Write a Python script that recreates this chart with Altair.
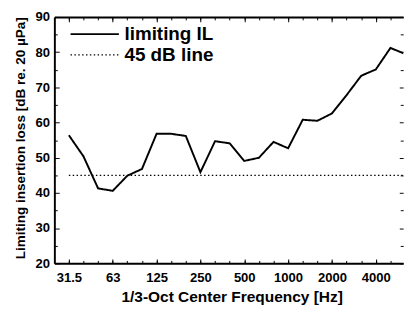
import json
import altair as alt
import pandas as pd

# ---- data ----
freq_labels = ["31.5", "40", "50", "63", "80", "100", "125", "160", "200", "250",
               "315", "400", "500", "630", "800", "1000", "1250", "1600", "2000",
               "2500", "3150", "4000", "5000", "6300"]
il_values = [56.4, 50.4, 41.3, 40.6, 44.9, 46.8, 56.8, 56.8, 56.2, 45.9,
             54.7, 54.1, 49.1, 50.0, 54.5, 52.7, 60.8, 60.5, 62.6, 67.8,
             73.3, 75.1, 81.2, 79.5]
labeled_bands = ["31.5", "63", "125", "250", "500", "1000", "2000", "4000"]
line_level = 45
series_names = ["limiting IL", "45 dB line"]
y_major = [20, 30, 40, 50, 60, 70, 80, 90]
y_minor = [25, 35, 45, 55, 65, 75, 85]

rows = []
for i, v in enumerate(il_values):
    rows.append({"idx": i, "value": v, "series": series_names[0]})
for i in (0, len(freq_labels) - 1):
    rows.append({"idx": i, "value": line_level, "series": series_names[1]})
df = pd.DataFrame(rows)

FONT = "Liberation Sans"
labeled_idx = [freq_labels.index(b) for b in labeled_bands]
all_idx = list(range(len(freq_labels) - 1))
label_expr = json.dumps(freq_labels) + "[datum.value]"

sx = alt.Scale(domain=[-0.99, 22.87], nice=False, zero=False)
sy = alt.Scale(domain=[20, 90], nice=False, zero=False)


def tick_axis(orient, values, size):
    return alt.Axis(orient=orient, values=values, tickSize=size, offset=-size,
                    domain=False, labels=False, title=None, tickColor="black",
                    grid=False)


main = alt.Chart(df).mark_line(color="black", clip=True).encode(
    x=alt.X("idx:Q", scale=sx, axis=alt.Axis(
        orient="bottom", values=labeled_idx, labelExpr=label_expr,
        ticks=False, tickSize=0, domainWidth=2, domainColor="black",
        labelPadding=8, labelFont=FONT, labelFontSize=13.5, labelFontWeight="bold",
        labelColor="black", labelFlush=False, labelOverlap=False, grid=False,
        title="1/3-Oct Center Frequency [Hz]", titleFont=FONT, titleFontSize=16,
        titleFontWeight="bold", titleColor="black", titleX=183.5, titleY=40,
        titleBaseline="alphabetic", titleAlign="center")),
    y=alt.Y("value:Q", scale=sy, axis=alt.Axis(
        orient="left", values=y_major, ticks=False, tickSize=0, grid=False,
        domainWidth=2, domainColor="black", labelPadding=5, labelFont=FONT,
        labelFontSize=13.5, labelFontWeight="bold", labelColor="black",
        title="Limiting insertion loss [dB re. 20 µPa]", titleFont=FONT,
        titleFontSize=14, titleFontWeight="bold", titleColor="black",
        titleX=-31, titleY=125, titleAngle=270, titleBaseline="alphabetic",
        titleAlign="center")),
    strokeDash=alt.StrokeDash("series:N", scale=alt.Scale(
        domain=series_names, range=[[1, 0], [1.5, 2.5]]),
        legend=alt.Legend(orient="none", legendX=32, legendY=8, title=None,
                          symbolType="M-5,0H5", symbolSize=100,
                          symbolStrokeWidth=2, symbolStrokeColor="black",
                          symbolFillColor="transparent",
                          labelFont=FONT, labelFontSize=19.5,
                          labelFontWeight="bold", labelColor="black",
                          labelOffset=21, rowPadding=0.5, padding=0,
                          labelLimit=300)),
    strokeWidth=alt.StrokeWidth("series:N", scale=alt.Scale(
        domain=series_names, range=[2, 1.5]), legend=None),
    detail="series:N",
)


def ghost(xaxis, yaxis):
    return alt.Chart(df).mark_point(opacity=0).encode(
        x=alt.X("idx:Q", scale=sx, axis=xaxis),
        y=alt.Y("value:Q", scale=sy, axis=yaxis),
    )


top_frame = alt.Axis(orient="top", domainWidth=2, domainColor="black",
                     ticks=False, labels=False, title=None, grid=False)

layers = [
    main,
    ghost(tick_axis("bottom", all_idx, 3), tick_axis("left", y_minor, 3)),
    ghost(tick_axis("bottom", labeled_idx, 4.5), tick_axis("left", y_major, 5)),
    ghost(top_frame, tick_axis("right", y_minor, 3)),
    ghost(tick_axis("top", all_idx, 3), tick_axis("right", y_major, 4)),
    ghost(tick_axis("top", labeled_idx, 5), None),
]

chart = alt.layer(*layers).resolve_axis(x="independent", y="independent").properties(
    width=361, height=255,
    padding={"left": 5, "top": -3, "right": 0, "bottom": 0},
).configure(background="white").configure_view(stroke=None)

chart.save("out.html", embed_options={"renderer": "svg", "actions": False})
